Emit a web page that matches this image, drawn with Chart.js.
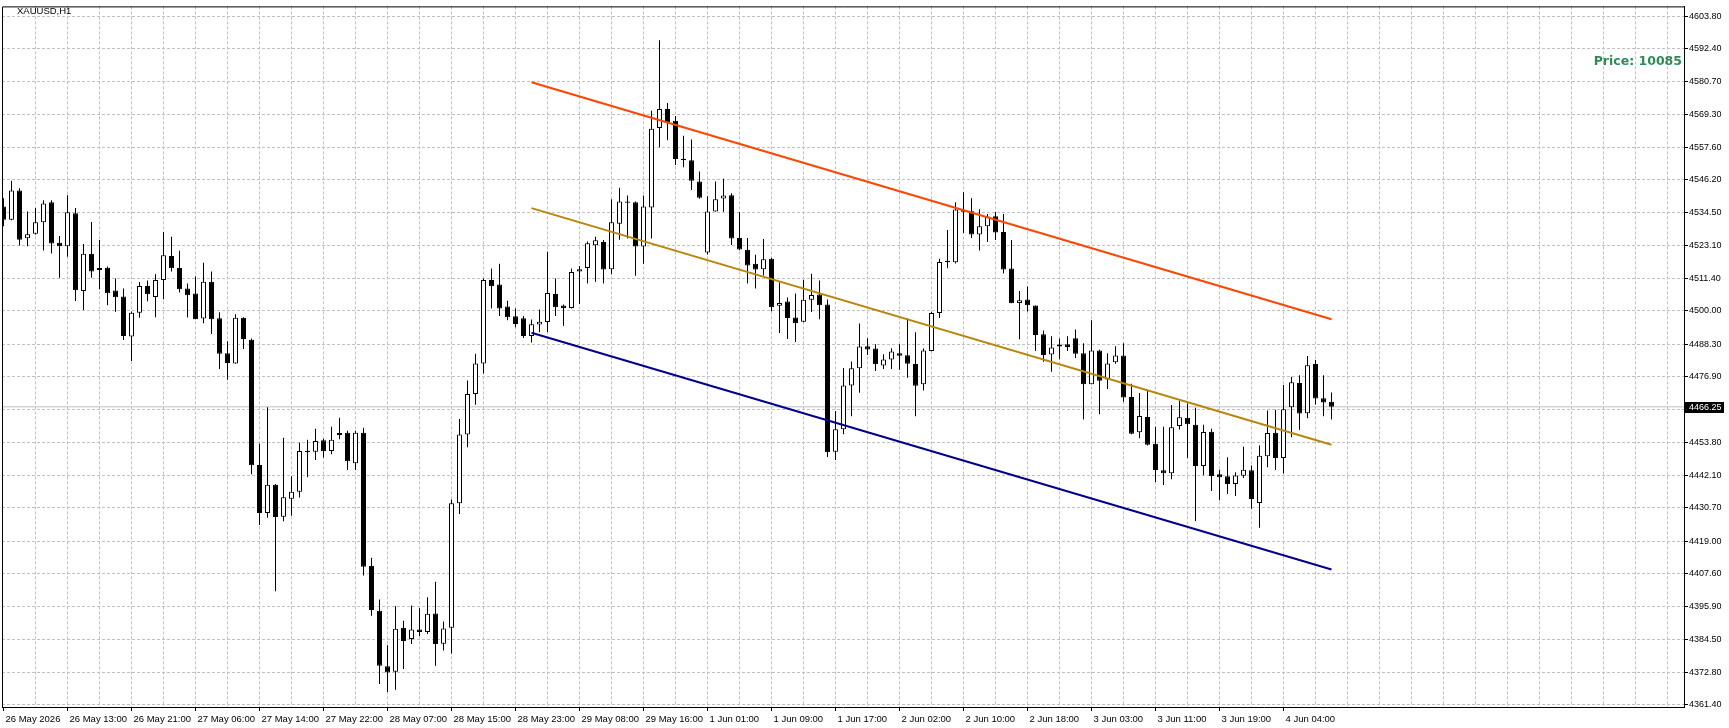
<!DOCTYPE html>
<html>
<head>
<meta charset="utf-8">
<title>XAUUSD,H1</title>
<script src="https://cdn.jsdelivr.net/npm/chart.js@4.4.1/dist/chart.umd.min.js"></script>
<style>
  html, body { margin: 0; padding: 0; background: #fff; }
  canvas { display: block; }
</style>
</head>
<body>
<canvas id="price-chart" width="1729" height="728"></canvas>
<script>
const symbolTitle = 'XAUUSD,H1';
const infoText = 'Price: 10085';
const currentPrice = 4466.25;

// H1 bars, first bar = 26 May 05:00
const opens = [
  4536.8, 4532.1, 4542.4, 4525.6, 4527.2, 4531.2, 4538.3, 4524.0, 4522.8, 4534.4,
  4507.0, 4520.1, 4514.4, 4515.2, 4507.2, 4505.1, 4491.0, 4499.4, 4508.8, 4504.9,
  4510.9, 4519.3, 4515.1, 4507.9, 4506.1, 4497.3, 4510.3, 4497.4, 4485.1, 4481.5,
  4497.6, 4489.9, 4445.8, 4428.9, 4438.8, 4427.6, 4433.9, 4436.4, 4450.8, 4450.4,
  4454.5, 4450.7, 4456.3, 4457.1, 4446.4, 4457.1, 4410.3, 4394.5, 4374.9, 4373.0,
  4388.5, 4384.5, 4387.9, 4387.0, 4393.5, 4382.9, 4388.5, 4432.3, 4456.5, 4470.8,
  4481.5, 4510.9, 4509.3, 4501.6, 4498.1, 4497.4, 4491.2, 4495.2, 4496.1, 4506.0,
  4501.9, 4501.0, 4513.9, 4515.1, 4523.1, 4524.3, 4514.7, 4530.7, 4538.5, 4538.3,
  4522.7, 4536.4, 4564.4, 4571.1, 4566.9, 4553.6, 4553.0, 4545.6, 4520.6, 4535.0,
  4539.6, 4540.7, 4525.7, 4521.5, 4516.6, 4514.7, 4518.4, 4501.8, 4503.3, 4497.7,
  4496.2, 4503.9, 4505.8, 4502.3, 4450.4, 4458.4, 4473.8, 4479.8, 4487.6, 4486.8,
  4480.8, 4482.9, 4485.1, 4484.4, 4481.3, 4474.2, 4485.9, 4499.3, 4517.7, 4517.1,
  4535.5, 4535.1, 4526.9, 4529.8, 4533.3, 4527.8, 4514.9, 4502.8, 4504.0, 4501.9,
  4491.8, 4484.7, 4487.5, 4488.3, 4490.4, 4485.1, 4474.2, 4486.1, 4475.9, 4481.9,
  4484.3, 4469.7, 4457.3, 4462.7, 4453.3, 4443.9, 4442.9, 4459.5, 4462.4, 4459.9,
  4445.4, 4457.5, 4442.5, 4441.8, 4439.1, 4442.0, 4443.9, 4432.4, 4448.9, 4457.1,
  4448.2, 4466.1, 4474.6, 4464.0, 4481.3, 4469.3, 4468.0
];
const highs = [
  4539.7, 4545.8, 4543.2, 4535.0, 4536.2, 4539.0, 4539.0, 4526.4, 4540.7, 4536.2,
  4523.6, 4531.3, 4525.0, 4515.6, 4511.4, 4507.9, 4499.8, 4510.2, 4510.7, 4512.9,
  4527.8, 4526.1, 4521.2, 4509.7, 4512.1, 4517.0, 4513.9, 4499.5, 4489.3, 4498.8,
  4497.8, 4490.3, 4453.3, 4466.1, 4439.1, 4455.4, 4441.8, 4453.6, 4454.7, 4458.5,
  4455.0, 4459.2, 4462.4, 4457.8, 4457.8, 4458.9, 4413.1, 4398.4, 4382.3, 4396.1,
  4391.0, 4396.3, 4395.4, 4399.2, 4404.7, 4390.7, 4433.6, 4462.0, 4475.5, 4484.9,
  4511.4, 4514.9, 4516.6, 4503.6, 4500.9, 4498.2, 4497.0, 4500.5, 4520.8, 4511.4,
  4502.3, 4514.9, 4515.8, 4524.4, 4526.1, 4525.0, 4539.3, 4543.4, 4540.6, 4538.5,
  4540.6, 4570.5, 4595.3, 4573.2, 4568.6, 4561.7, 4560.3, 4549.1, 4540.4, 4545.6,
  4546.5, 4541.4, 4534.8, 4525.7, 4519.8, 4525.3, 4518.7, 4510.1, 4504.7, 4506.1,
  4511.0, 4513.1, 4510.7, 4504.0, 4464.8, 4479.9, 4482.2, 4495.6, 4490.4, 4488.3,
  4484.8, 4486.9, 4488.3, 4497.3, 4492.5, 4486.8, 4499.7, 4518.4, 4528.5, 4538.3,
  4541.8, 4539.7, 4535.8, 4534.1, 4534.8, 4534.1, 4525.0, 4507.0, 4508.6, 4501.9,
  4493.1, 4491.1, 4490.3, 4491.1, 4493.5, 4488.6, 4496.7, 4486.3, 4485.1, 4487.6,
  4488.6, 4474.4, 4471.1, 4472.3, 4459.2, 4459.2, 4466.9, 4468.3, 4467.4, 4465.9,
  4459.9, 4458.5, 4444.1, 4448.5, 4443.2, 4452.2, 4445.6, 4452.6, 4465.0, 4465.2,
  4473.9, 4476.8, 4477.4, 4484.1, 4482.7, 4477.4, 4471.3
];
const lows = [
  4529.8, 4531.9, 4523.0, 4522.8, 4526.9, 4521.3, 4520.2, 4511.7, 4519.1, 4503.5,
  4500.3, 4511.7, 4507.6, 4502.0, 4499.7, 4489.8, 4482.4, 4497.6, 4503.4, 4497.8,
  4504.1, 4513.9, 4506.5, 4497.7, 4497.1, 4495.7, 4491.9, 4479.6, 4475.8, 4481.4,
  4486.6, 4442.5, 4424.7, 4427.2, 4401.3, 4426.0, 4427.9, 4434.3, 4441.5, 4447.5,
  4448.4, 4449.6, 4454.8, 4444.0, 4444.0, 4406.9, 4392.7, 4368.7, 4365.9, 4366.7,
  4374.0, 4382.8, 4385.6, 4386.3, 4375.1, 4380.5, 4379.4, 4428.5, 4452.0, 4467.0,
  4478.0, 4500.9, 4498.2, 4496.7, 4494.3, 4490.5, 4488.9, 4492.5, 4492.6, 4498.2,
  4494.8, 4500.9, 4502.4, 4509.7, 4510.3, 4509.7, 4512.9, 4525.1, 4525.5, 4512.4,
  4516.6, 4525.5, 4557.6, 4560.1, 4551.4, 4550.6, 4542.6, 4539.5, 4519.9, 4535.0,
  4534.9, 4523.2, 4521.4, 4509.7, 4507.9, 4512.5, 4499.9, 4492.2, 4490.1, 4489.1,
  4496.0, 4499.6, 4497.1, 4448.6, 4447.5, 4456.6, 4462.9, 4471.2, 4484.5, 4478.9,
  4479.6, 4479.6, 4479.3, 4476.5, 4462.9, 4472.0, 4485.8, 4497.5, 4515.0, 4516.7,
  4527.4, 4525.7, 4521.3, 4524.3, 4525.0, 4513.2, 4502.7, 4490.0, 4499.8, 4485.9,
  4482.1, 4478.6, 4483.0, 4485.9, 4483.4, 4461.8, 4474.2, 4463.6, 4472.5, 4481.4,
  4468.0, 4456.6, 4455.2, 4452.6, 4439.8, 4438.7, 4440.8, 4458.3, 4448.2, 4426.1,
  4442.2, 4436.6, 4433.4, 4435.6, 4434.9, 4441.2, 4430.4, 4423.7, 4445.0, 4444.0,
  4442.8, 4455.5, 4458.2, 4462.2, 4467.1, 4462.9, 4461.8
];
const closes = [
  4532.1, 4542.4, 4525.1, 4527.0, 4531.2, 4537.8, 4523.7, 4522.8, 4534.7, 4507.3,
  4520.1, 4513.9, 4515.1, 4506.2, 4504.8, 4491.2, 4499.4, 4508.8, 4505.9, 4510.9,
  4519.6, 4515.0, 4507.6, 4505.5, 4497.1, 4510.3, 4497.1, 4484.9, 4481.7, 4497.6,
  4490.1, 4445.7, 4428.9, 4438.8, 4427.5, 4434.4, 4436.4, 4450.7, 4450.3, 4454.2,
  4450.6, 4454.7, 4457.0, 4447.1, 4457.1, 4410.0, 4394.7, 4375.1, 4372.7, 4388.1,
  4383.8, 4387.9, 4387.0, 4393.4, 4382.8, 4388.2, 4432.3, 4456.5, 4470.8, 4481.5,
  4510.9, 4508.7, 4500.9, 4497.8, 4495.4, 4491.2, 4495.3, 4496.2, 4506.3, 4501.3,
  4501.0, 4513.7, 4514.7, 4523.8, 4524.9, 4514.6, 4531.2, 4538.5, 4538.1, 4522.7,
  4536.8, 4564.1, 4571.1, 4566.4, 4553.5, 4553.1, 4545.8, 4539.8, 4535.0, 4539.3,
  4540.6, 4525.5, 4521.6, 4516.0, 4514.6, 4518.2, 4501.3, 4502.8, 4497.5, 4495.7,
  4503.9, 4505.6, 4502.0, 4450.3, 4458.4, 4473.8, 4479.8, 4487.5, 4486.4, 4481.2,
  4482.9, 4485.7, 4484.2, 4481.4, 4473.7, 4486.1, 4499.3, 4517.2, 4517.1, 4535.7,
  4534.9, 4526.9, 4529.8, 4533.2, 4527.6, 4514.6, 4502.7, 4503.8, 4502.0, 4491.5,
  4484.5, 4487.1, 4488.2, 4487.3, 4484.9, 4474.2, 4486.1, 4475.4, 4481.5, 4484.3,
  4469.5, 4456.8, 4463.0, 4452.9, 4444.0, 4442.9, 4459.1, 4462.6, 4460.1, 4445.4,
  4457.4, 4441.9, 4441.5, 4439.1, 4442.1, 4444.1, 4433.8, 4449.0, 4457.0, 4448.2,
  4465.4, 4474.9, 4463.9, 4480.9, 4469.2, 4467.8, 4466.25
];

// one time label every 8 bars
const timeLabels = [
  '26 May 2026', '26 May 13:00', '26 May 21:00', '27 May 06:00', '27 May 14:00',
  '27 May 22:00', '28 May 07:00', '28 May 15:00', '28 May 23:00', '29 May 08:00',
  '29 May 16:00', '1 Jun 01:00', '1 Jun 09:00', '1 Jun 17:00', '2 Jun 02:00',
  '2 Jun 10:00', '2 Jun 18:00', '3 Jun 03:00', '3 Jun 11:00', '3 Jun 19:00',
  '4 Jun 04:00'
];
const priceTicks = [
  4603.80, 4592.40, 4580.70, 4569.30, 4557.60, 4546.20, 4534.50, 4523.10, 4511.40,
  4500.00, 4488.30, 4476.90, 4465.35, 4453.80, 4442.10, 4430.70, 4419.00, 4407.60,
  4395.90, 4384.50, 4372.80, 4361.40
];

// trend channel drawn from bar 66 to bar 166
const channelBars = [66, 166];
const upperLine = [4580.5, 4497.1];
const middleLine = [4536.2, 4452.9];
const lowerLine = [4492.3, 4409.0];

const gridColor = '#c0c0c0';
const axisFont = { family: 'Liberation Sans', size: 9 };

const isBull = closes.map((c, i) => c >= opens[i]);

const trendSet = (label, values, color) => ({
  type: 'line',
  label,
  data: channelBars.map((b, i) => ({ x: b, y: values[i] })),
  borderColor: color,
  borderWidth: 2,
  pointRadius: 0,
  tension: 0,
  order: 1,
});

const overlay = {
  id: 'mtOverlay',
  afterDraw(chart) {
    const { ctx, chartArea } = chart;
    const yScale = chart.scales.y;
    ctx.save();
    // frame top / left
    ctx.strokeStyle = '#000';
    ctx.lineWidth = 1;
    ctx.beginPath();
    ctx.moveTo(chartArea.left + 0.5, chartArea.bottom);
    ctx.lineTo(chartArea.left + 0.5, chartArea.top + 0.5);
    ctx.lineTo(chartArea.right, chartArea.top + 0.5);
    ctx.stroke();

    ctx.textBaseline = 'middle';
    ctx.fillStyle = '#000';
    ctx.font = '9.5px "Liberation Sans"';
    ctx.textAlign = 'left';
    ctx.fillText(symbolTitle, 17, 11);

    ctx.fillStyle = '#2e8b57';
    ctx.font = 'bold 12.5px "DejaVu Sans"';
    ctx.textAlign = 'right';
    ctx.fillText(infoText, chartArea.right - 2, 62);

    // current price marker
    const py = yScale.getPixelForValue(currentPrice);
    ctx.fillStyle = '#000';
    ctx.fillRect(chartArea.right + 1, Math.round(py) - 5, 39, 11);
    ctx.fillStyle = '#fff';
    ctx.font = '9px "Liberation Sans"';
    ctx.textAlign = 'left';
    ctx.fillText(currentPrice.toFixed(2), chartArea.right + 5, Math.round(py) + 0.5);
    ctx.restore();
  },
};

const buildChart = () => {
  const canvas = document.getElementById('price-chart');
  if (!canvas || typeof Chart === 'undefined') return null;
  return new Chart(canvas, {
    type: 'bar',
    data: {
      datasets: [
        trendSet('upper', upperLine, '#ff4500'),
        trendSet('middle', middleLine, '#b8860b'),
        trendSet('lower', lowerLine, '#00008b'),
        {
          label: 'body',
          data: opens.map((o, i) => ({ x: i, y: [o, closes[i]] })),
          backgroundColor: isBull.map(b => (b ? '#ffffff' : '#000000')),
          borderColor: '#000',
          borderWidth: 1,
          borderSkipped: false,
          barThickness: 5,
          minBarLength: 1,
          inflateAmount: 0,
          grouped: false,
          order: 2,
        },
        {
          label: 'wick',
          data: lows.map((l, i) => ({ x: i, y: [l, highs[i]] })),
          backgroundColor: '#000',
          borderWidth: 0,
          barThickness: 1,
          inflateAmount: 0,
          grouped: false,
          order: 3,
        },
        {
          type: 'line',
          label: 'last',
          data: [{ x: -1, y: currentPrice }, { x: 211, y: currentPrice }],
          borderColor: gridColor,
          borderWidth: 1,
          pointRadius: 0,
          order: 5,
        },
      ],
    },
    options: {
      responsive: false,
      animation: false,
      devicePixelRatio: 1,
      layout: { padding: { left: 2, top: 2, right: 0, bottom: 0 } },
      plugins: { legend: { display: false }, tooltip: { enabled: false }, title: { display: false } },
      scales: {
        x: {
          type: 'linear',
          position: 'bottom',
          offset: false,
          min: -0.1875,
          max: 210.0625,
          afterFit: scale => { scale.height = 21; },
          afterBuildTicks: scale => {
            const ticks = [];
            for (let v = 0; v <= 208; v += 4) ticks.push({ value: v });
            scale.ticks = ticks;
          },
          grid: {
            offset: false,
            color: ctx => (ctx.tick && ctx.tick.value > 0 ? gridColor : 'transparent'),
            tickColor: ctx => (ctx.tick && ctx.tick.value % 8 === 0 && ctx.tick.value / 8 < timeLabels.length ? '#000' : 'transparent'),
            tickLength: 4,
          },
          border: { color: '#000', width: 1, dash: [3, 2] },
          ticks: {
            autoSkip: false,
            maxRotation: 0,
            align: 'start',
            padding: 3,
            labelOffset: 2,
            color: '#000',
            font: { family: 'Liberation Sans', size: 9.5 },
            callback: value => (value % 8 === 0 ? timeLabels[value / 8] || '' : ''),
          },
        },
        y: {
          type: 'linear',
          position: 'right',
          min: 4360.6,
          max: 4607.19,
          afterFit: scale => { scale.width = 45; },
          afterBuildTicks: scale => { scale.ticks = priceTicks.map(v => ({ value: v })); },
          grid: { color: gridColor, tickColor: '#000', tickLength: 4 },
          border: { color: '#000', width: 1, dash: [3, 2] },
          ticks: {
            autoSkip: false,
            padding: 1,
            color: '#000',
            font: axisFont,
            callback: value => value.toFixed(2),
          },
        },
      },
    },
    plugins: [overlay],
  });
};

buildChart();
</script>
</body>
</html>
